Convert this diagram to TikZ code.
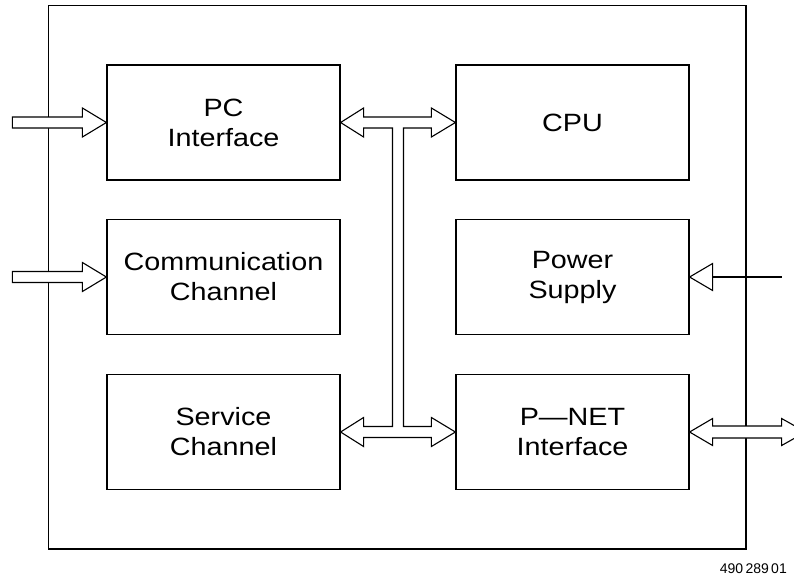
\documentclass[tikz,border=0pt]{standalone}
\usepackage{fontspec}
\setmainfont{Liberation Sans}
\newfontfamily\boxfont{Liberation Sans}[FakeStretch=1.15]
\usetikzlibrary{calc}
\begin{document}
\begin{tikzpicture}[x=1pt,y=-1pt,
  line join=miter,
  blk/.style={draw,line width=1.2pt,minimum width=233pt,minimum height=115pt,
    inner sep=0pt,align=center,font=\boxfont\fontsize{25}{30}\selectfont},
  fat/.style={draw,line width=1.1pt,fill=white},
  thin/.style={draw,line width=1.1pt}]
\useasboundingbox (0,0) rectangle (794,587);
\clip (0,0) rectangle (794,587);
% outer frame
\draw[line width=1.3pt] (48.7,5.7) rectangle (746,549);
% blocks
\node[blk] (pc)   at (223.5,122.5) {PC\\Interface};
\node[blk] (com)  at (223.5,277)   {Communication\\Channel};
\node[blk] (svc)  at (223.5,432)   {Service\\Channel};
\node[blk] (cpu)  at (572.5,122.5) {CPU};
\node[blk] (pwr)  at (572.5,277)   {Power\\Supply};
\node[blk] (pnet) at (572.5,432)   {P—NET\\Interface};
% input arrows on the left
\foreach \n in {pc,com}{
  \draw[fat] ($(\n.west)+(-94,-5.5)$) -- ($(\n.west)+(-24,-5.5)$) -- ($(\n.west)+(-24,-14.5)$)
    -- (\n.west) -- ($(\n.west)+(-24,14.5)$) -- ($(\n.west)+(-24,5.5)$) -- ($(\n.west)+(-94,5.5)$) -- cycle;
}
% internal bus
\coordinate (sl) at ($(pc.east)!0.5!(cpu.west)+(-5.5,0)$);
\coordinate (sr) at ($(pc.east)!0.5!(cpu.west)+(5.5,0)$);
\draw[fat]
  (pc.east) -- ($(pc.east)+(23,-14.5)$) -- ($(pc.east)+(23,-5.5)$)
  -- ($(cpu.west)+(-24,-5.5)$) -- ($(cpu.west)+(-24,-14.5)$) -- (cpu.west)
  -- ($(cpu.west)+(-24,14.5)$) -- ($(cpu.west)+(-24,5.5)$)
  -- ($(sr)+(0,5.5)$) -- ($(sr|-pnet.west)+(0,-5.5)$)
  -- ($(pnet.west)+(-24,-5.5)$) -- ($(pnet.west)+(-24,-14.5)$) -- (pnet.west)
  -- ($(pnet.west)+(-24,14.5)$) -- ($(pnet.west)+(-24,5.5)$)
  -- ($(svc.east)+(23,5.5)$) -- ($(svc.east)+(23,14.5)$) -- (svc.east)
  -- ($(svc.east)+(23,-14.5)$) -- ($(svc.east)+(23,-5.5)$)
  -- ($(sl|-svc.east)+(0,-5.5)$) -- ($(sl)+(0,5.5)$)
  -- ($(pc.east)+(23,5.5)$) -- ($(pc.east)+(23,14.5)$) -- cycle;
% power supply input
\coordinate (pin) at ($(pwr.east)+(92,0)$);
\draw[thin] (pin) -- ($(pwr.east)+(23,0)$);
\draw[thin] ($(pwr.east)+(23,-13.5)$) -- (pwr.east) -- ($(pwr.east)+(23,13.5)$) -- cycle;
% P-NET bidirectional external
\draw[fat]
  (pnet.east) -- ($(pnet.east)+(23,-13.5)$) -- ($(pnet.east)+(23,-6)$)
  -- ($(pnet.east)+(92,-6)$) -- ($(pnet.east)+(92,-13.5)$) -- ($(pnet.east)+(116,0)$)
  -- ($(pnet.east)+(92,13.5)$) -- ($(pnet.east)+(92,6)$) -- ($(pnet.east)+(23,6)$)
  -- ($(pnet.east)+(23,13.5)$) -- cycle;
% drawing number
\node[anchor=base east,font=\fontsize{14}{16}\selectfont,inner sep=0pt] (num) at (787,573) {490\,289\,01};
\end{tikzpicture}
\end{document}
